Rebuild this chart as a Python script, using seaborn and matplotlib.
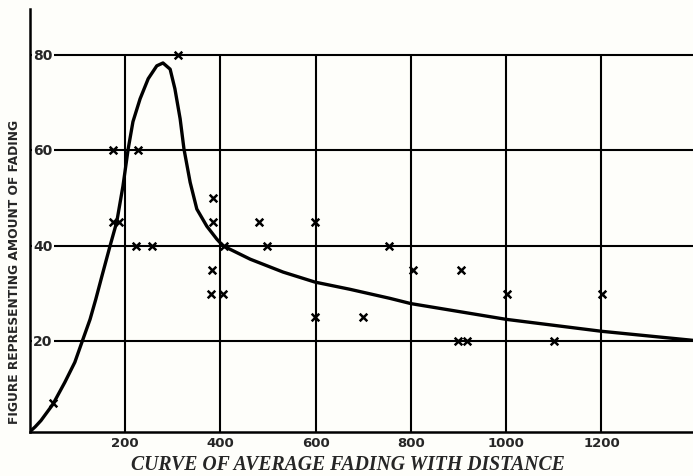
import matplotlib
matplotlib.use("Agg")
import matplotlib.pyplot as plt
import seaborn as sns
import pandas as pd

# Observed fading figures (distance in miles, fading figure)
obs_distance = [50, 175, 228, 175, 188, 311, 384, 384, 482, 599,
                224, 256, 407, 498, 382, 380, 405, 598, 755, 805,
                905, 1002, 1202, 700, 899, 918, 1101]
obs_fading = [7, 60, 60, 45, 45, 80, 50, 45, 45, 45,
              40, 40, 40, 40, 35, 30, 30, 25, 40, 35,
              35, 30, 30, 25, 20, 20, 20]

# Average fading curve
curve_distance = [0, 12, 24, 49, 74, 95, 112, 127, 139, 152, 169, 183, 196,
                  207, 217, 232, 249, 267, 280, 295, 305, 316, 324, 337,
                  351, 372, 393, 406, 463, 532, 599, 672, 756, 800, 1000,
                  1200, 1392]
curve_fading = [1, 2.1, 3.4, 6.8, 11.4, 15.6, 20.4, 24.6, 28.8, 33.7, 40, 45,
                52.5, 60.3, 66, 70.8, 75, 77.7, 78.3, 77, 72.9, 66.6, 60.3,
                53.3, 47.7, 44.1, 41.4, 40, 37.2, 34.5, 32.4, 30.9, 29.0,
                27.9, 24.6, 22.1, 20.2]

x_ticks = [200, 400, 600, 800, 1000, 1200]
x_tick_labels = ["200", "400", "600", "800", "1000", "1200"]
y_ticks = [20, 40, 60, 80]
y_tick_labels = ["20", "40", "60", "80"]

obs = pd.DataFrame({"distance": obs_distance, "fading": obs_fading})
curve = pd.DataFrame({"distance": curve_distance, "fading": curve_fading})

sns.set_theme(style="white")
paper = "#fefefa"
fig = plt.figure(figsize=(6.93, 4.77), dpi=100, facecolor=paper)
ax = fig.add_axes([0.0426, 0.0922, 0.9574, 0.8868])
ax.set_facecolor(paper)

ax.set_xlim(0, 1392)
ax.set_ylim(1, 89.6)

# grid: horizontal rules run full width, vertical rules stop at 80
for yv in y_ticks:
    ax.axhline(yv, color="black", lw=1.5, zorder=1)
ax.vlines(x_ticks, 1, 80, color="black", lw=1.5, zorder=1)

sns.lineplot(data=curve, x="distance", y="fading", sort=False, ax=ax,
             color="black", lw=2.4, zorder=3, solid_joinstyle="round",
             solid_capstyle="round")
sns.scatterplot(data=obs, x="distance", y="fading", ax=ax, marker="x",
                color="black", s=30, linewidth=1.8, zorder=4)

for s in ["top", "right"]:
    ax.spines[s].set_visible(False)
for s in ["left", "bottom"]:
    ax.spines[s].set_color("black")
    ax.spines[s].set_linewidth(1.8)
    ax.spines[s].set_zorder(6)

ax.set_xticks(x_ticks)
ax.set_xticklabels(x_tick_labels, fontsize=9.5, fontweight="bold",
                   family="DejaVu Sans")
ax.tick_params(axis="x", length=0, pad=3)
ax.set_yticks([])
ax.set_xlabel("")
ax.set_ylabel("")

# y values written inside the frame over the rules
for yv, lab in zip(y_ticks, y_tick_labels):
    ax.text(8, yv, lab, ha="left", va="center", fontsize=10,
            fontweight="bold", family="DejaVu Sans", zorder=5,
            bbox=dict(boxstyle="square,pad=0.1", fc=paper, ec="none"))

fig.text(0.502, 0.025, "CURVE OF AVERAGE FADING WITH DISTANCE",
         ha="center", va="center", fontsize=14.2, fontweight="bold",
         style="italic", family="Liberation Serif")
fig.text(0.021, 0.43, "FIGURE REPRESENTING AMOUNT OF FADING",
         ha="center", va="center", rotation=90, fontsize=8.8,
         fontweight="bold", family="DejaVu Sans")

fig.savefig("out.png", dpi=100, facecolor=paper)
